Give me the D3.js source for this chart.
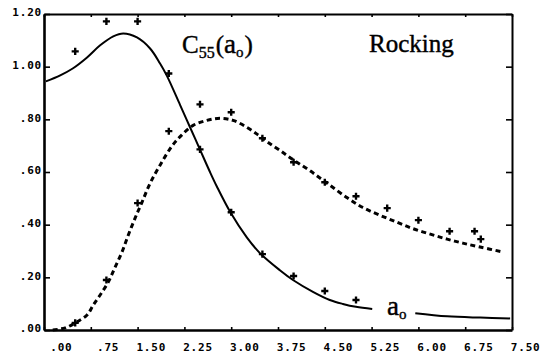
<!DOCTYPE html>
<html>
<head>
<meta charset="utf-8">
<script src="https://cdn.jsdelivr.net/npm/d3@7/dist/d3.min.js"></script>
<style>
	body { margin: 0; background: #fff; }
	svg { display: block; }
	.tick text { font-family: "DejaVu Sans Mono", monospace; font-weight: bold; font-size: 11px; letter-spacing: 0.8px; fill: #000; }
	.axis path, .axis line { stroke: #000; }
	.label { font-family: "Liberation Serif", serif; fill: #000; stroke: #000; stroke-width: 0.4; }
</style>
</head>
<body>
<div id="chart"></div>
<script>
// axis ticks
const xTicks = [0, 0.75, 1.5, 2.25, 3, 3.75, 4.5, 5.25, 6, 6.75, 7.5];
const xTickLabels = ['.00', '.75', '1.50', '2.25', '3.00', '3.75', '4.50', '5.25', '6.00', '6.75', '7.50'];
const yTicks = [0, 0.2, 0.4, 0.6, 0.8, 1.0, 1.2];
const yTickLabels = ['.00', '.20', '.40', '.60', '.80', '1.00', '1.20'];

// solid curve (null = gap for the a0 label)
const solidX = [0.03, 0.26, 0.46, 0.69, 0.90, 1.11, 1.27, 1.49, 1.70, 1.86, 1.97, 2.18, 2.34, 2.50, 2.66, 2.77, 2.98, 3.25, 3.46, 3.78, 3.99, 4.31, 4.58, 4.79, 5.00, 5.26, 5.6, 5.95, 6.46, 6.99, 7.47];
const solidY = [0.944, 0.967, 0.993, 1.035, 1.081, 1.115, 1.126, 1.111, 1.069, 1.012, 0.965, 0.855, 0.770, 0.685, 0.600, 0.545, 0.450, 0.352, 0.292, 0.227, 0.190, 0.145, 0.114, 0.099, 0.088, 0.080, null, 0.064, 0.052, 0.047, 0.044];
const solidPtsX = [0.5, 1.0, 1.5, 2.0, 2.5, 3.0, 3.5, 4.0, 4.5, 5.0];
const solidPtsY = [1.058, 1.172, 1.172, 0.974, 0.686, 0.447, 0.288, 0.205, 0.148, 0.114];

// dashed curve
const dashX = [0.14, 0.34, 0.50, 0.69, 0.79, 0.90, 1.03, 1.14, 1.25, 1.35, 1.46, 1.57, 1.70, 1.86, 2.05, 2.21, 2.39, 2.61, 2.82, 3.03, 3.25, 3.43, 3.57, 3.78, 3.99, 4.26, 4.54, 4.86, 5.11, 5.38, 5.66, 5.91, 6.19, 6.46, 6.71, 6.99, 7.36];
const dashY = [0.000, 0.008, 0.027, 0.057, 0.095, 0.133, 0.182, 0.239, 0.296, 0.360, 0.425, 0.485, 0.557, 0.626, 0.698, 0.741, 0.777, 0.796, 0.804, 0.796, 0.770, 0.741, 0.716, 0.682, 0.647, 0.605, 0.557, 0.502, 0.465, 0.436, 0.409, 0.385, 0.364, 0.345, 0.330, 0.315, 0.296];
const dashPtsX = [0.5, 1.0, 1.5, 2.0, 2.5, 3.0, 3.5, 4.0, 4.5, 5.0, 5.5, 6.0, 6.5, 6.9, 7.0];
const dashPtsY = [0.027, 0.190, 0.482, 0.755, 0.857, 0.827, 0.728, 0.637, 0.561, 0.508, 0.463, 0.417, 0.375, 0.375, 0.345];

const margin = { top: 14, right: 42, bottom: 30, left: 44 },
	width = 554 - margin.left - margin.right,
	height = 360 - margin.top - margin.bottom;

const root = d3.select('#chart').append('svg').attr('width', 554).attr('height', 360);
const svg = root.append('g').attr('transform', `translate(${margin.left}, ${margin.top})`);

const x = d3.scaleLinear().domain([0, 7.5]).range([0, width]);
const y = d3.scaleLinear().domain([0, 1.2]).range([height, 0]);

// frame axes
svg.append('g').attr('class', 'axis')
	.call(d3.axisTop(x).tickValues(xTicks).tickSize(-3).tickSizeOuter(0).tickFormat(''))
	.call((g) => g.select('.domain').attr('stroke-width', 2.2))
	.call((g) => g.selectAll('.tick line').attr('stroke-width', 1.6));

svg.append('g').attr('class', 'axis').attr('transform', `translate(${width}, 0)`)
	.call(d3.axisRight(y).tickValues(yTicks).tickSize(-6).tickSizeOuter(0).tickFormat(''))
	.call((g) => g.select('.domain').attr('stroke-width', 2))
	.call((g) => g.selectAll('.tick line').attr('stroke-width', 1.6));

svg.append('g').attr('class', 'axis').attr('transform', `translate(0, ${height})`)
	.call(d3.axisBottom(x).tickValues(xTicks).tickSize(-3).tickSizeOuter(0).tickFormat((d, i) => xTickLabels[i]))
	.call((g) => g.select('.domain').attr('stroke-width', 2.6))
	.call((g) => g.selectAll('.tick line').attr('stroke-width', 1.6))
	.call((g) => g.selectAll('.tick text').attr('text-anchor', 'end').attr('x', 28).attr('y', 17).attr('dy', '0.35em'));

svg.append('g').attr('class', 'axis')
	.call(d3.axisLeft(y).tickValues(yTicks).tickSize(-6).tickSizeOuter(0).tickFormat((d, i) => yTickLabels[i]))
	.call((g) => g.select('.domain').attr('stroke-width', 2.6))
	.call((g) => g.selectAll('.tick line').attr('stroke-width', 1.6))
	.call((g) => g.selectAll('.tick text').attr('x', -2).attr('y', -2).attr('dy', '0.35em'));

// curves
const line = d3.line()
	.defined((d) => d[1] !== null)
	.x((d) => x(d[0]))
	.y((d) => y(d[1]))
	.curve(d3.curveCatmullRom.alpha(0.5));

svg.append('path')
	.datum(dashX.map((v, i) => [v, dashY[i]]))
	.attr('fill', 'none').attr('stroke', '#000')
	.attr('stroke-width', 3).attr('stroke-dasharray', '5,3.5')
	.attr('d', line);

svg.append('path')
	.datum(solidX.map((v, i) => [v, solidY[i]]))
	.attr('fill', 'none').attr('stroke', '#000')
	.attr('stroke-width', 2)
	.attr('d', line);

// data markers
const cross = d3.symbol().type(d3.symbolCross).size(28);
const markers = solidPtsX.map((v, i) => [v, solidPtsY[i]]).concat(dashPtsX.map((v, i) => [v, dashPtsY[i]]));
svg.append('g')
	.selectAll('path')
	.data(markers)
	.enter()
	.append('path')
	.attr('d', cross)
	.attr('fill', '#000')
	.attr('transform', (d) => `translate(${x(d[0])}, ${y(d[1])})`);

// labels
const title = root.append('text').attr('class', 'label').attr('x', 182).attr('y', 53);
title.append('tspan').attr('font-size', 25).text('C');
title.append('tspan').attr('font-size', 16).attr('dy', 5).text('55');
title.append('tspan').attr('font-size', 25).attr('dy', -5).attr('dx', 1).text('(');
title.append('tspan').attr('font-size', 27).text('a');
title.append('tspan').attr('font-size', 15).attr('dy', 4).text('o');
title.append('tspan').attr('font-size', 25).attr('dy', -4).attr('dx', 1).text(')');

root.append('text').attr('class', 'label').attr('x', 369).attr('y', 52).attr('font-size', 25).text('Rocking');

const a0 = root.append('text').attr('class', 'label').attr('x', 387).attr('y', 315);
a0.append('tspan').attr('font-size', 27).text('a');
a0.append('tspan').attr('font-size', 15).attr('dy', 4).text('o');
</script>
</body>
</html>
